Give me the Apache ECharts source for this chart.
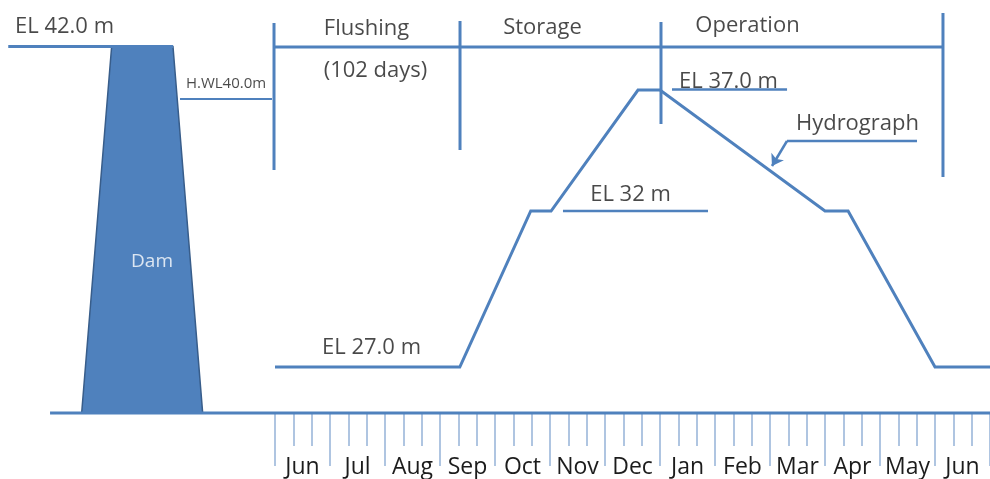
<!DOCTYPE html>
<html>
<head>
<meta charset="utf-8">
<script src="https://cdn.jsdelivr.net/npm/echarts@6/dist/echarts.min.js"></script>
<style>html,body{margin:0;padding:0;background:#fff}#c{width:990px;height:479px}</style>
</head>
<body>
<div id="c"></div>
<script>
// ---- Data (diagram is schematic: x = months since 1 June, y = schematic drawing height above ground) ----
const monthLabels = ['Jun','Jul','Aug','Sep','Oct','Nov','Dec','Jan','Feb','Mar','Apr','May','Jun'];
const subTicksPerMonth = 3;

// Hydrograph (reservoir water level through the year)
const hydroMonth  = [0, 3.36, 4.65, 5.02, 6.6, 7.0, 10.0, 10.42, 12.0, 13.0];
const hydroHeight = [46, 46, 202, 202, 323, 323, 202, 202, 46, 46];

// Dam cross-section (trapezoid)
const damMonth  = [-3.515, -1.315, -1.855, -2.97];
const damHeight = [0, 0, 366.5, 366.5];

// Reference levels
const crestLine   = [[-4.85, 366.5], [-1.855, 366.5]];   // EL 42.0 m
const hwlLine     = [[-1.727, 314], [-0.055, 314]];       // H.WL 40.0 m
const el32Line    = [[5.236, 202], [7.873, 202]];         // EL 32 m
const el37Line    = [[7.218, 323.5], [9.31, 323.5]];      // EL 37.0 m
const groundLine  = [[-4.09, 0], [13, 0]];
// Period brackets
const bracketTop  = [[-0.018, 366], [12.145, 366]];
const dividers    = [
  [[-0.018, 390], [-0.018, 243]],
  [[3.364, 392], [3.364, 263]],
  [[7.018, 391], [7.018, 289]],
  [[12.145, 400], [12.145, 236]]
];
// Hydrograph leader with arrow
const leaderLine  = [[11.673, 272], [9.309, 272]];
const leaderArrow = [[9.309, 272], [9.036, 247]];

// Text annotations
const notes = [
  {text: 'EL 42.0 m',  at: [-3.827, 386.5], size: 22},
  {text: 'H.WL40.0m',  at: [-0.891, 329.5], size: 15},
  {text: 'Flushing',   at: [1.664, 384.5],  size: 22},
  {text: '(102 days)', at: [1.827, 342.5],  size: 22},
  {text: 'Storage',    at: [4.864, 385],    size: 22},
  {text: 'Operation',  at: [8.591, 387],    size: 22},
  {text: 'EL 37.0 m',  at: [8.245, 331],    size: 22},
  {text: 'Hydrograph', at: [10.59, 289],    size: 22},
  {text: 'EL 32 m',    at: [6.464, 218.5],  size: 22},
  {text: 'EL 27.0 m',  at: [1.755, 65],     size: 22},
  {text: 'Dam',        at: [-2.236, 151],   size: 19, color: '#ffffff'}
];

// ---- Styles ----
const BLUE = '#4f81bd';
const TICK = '#95b3d7';
const TEXT = '#1c1c1c';
const FONT = 'Open Sans';

function seg(points, width, z) {
  return {
    type: 'line', xAxisIndex: 0, yAxisIndex: 0, data: points,
    symbol: 'none', silent: true, clip: false, z: z || 2,
    lineStyle: {color: BLUE, width: width, cap: 'butt', join: 'miter'}
  };
}

const series = [];
series.push(seg(groundLine, 3, 3));
series.push({
  type: 'custom', xAxisIndex: 0, yAxisIndex: 0, z: 2, silent: true,
  data: [[damMonth[0], damHeight[0]]],
  renderItem: function (params, api) {
    const pts = damMonth.map((m, i) => api.coord([m, damHeight[i]]));
    return {type: 'polygon', shape: {points: pts},
            style: {fill: BLUE, stroke: '#385d8a', lineWidth: 1.5}};
  }
});
series.push(seg(crestLine, 3));
series.push(seg(hwlLine, 2));
series.push(seg(el32Line, 2.5));
series.push(seg(el37Line, 2.5));
series.push(seg(bracketTop, 3));
dividers.forEach(d => series.push(seg(d, 3)));
series.push(seg(hydroMonth.map((m, i) => [m, hydroHeight[i]]), 3, 4));
series.push(seg(leaderLine, 2.5));
series.push({
  type: 'lines', coordinateSystem: 'cartesian2d', xAxisIndex: 0, yAxisIndex: 0,
  polyline: false, silent: true, z: 4,
  symbol: ['none', 'arrow'], symbolSize: 11,
  lineStyle: {color: BLUE, width: 2.5, opacity: 1},
  data: [{coords: leaderArrow}]
});
series.push({
  type: 'scatter', xAxisIndex: 0, yAxisIndex: 0, z: 6, silent: true,
  symbolSize: 1, itemStyle: {color: 'rgba(0,0,0,0)'},
  data: notes.map(n => ({
    value: n.at,
    label: {show: true, position: 'inside', formatter: n.text,
            fontSize: n.size, fontFamily: FONT, color: n.color || TEXT}
  }))
});

const chart = echarts.init(document.getElementById('c'), null, {renderer: 'canvas'});
chart.setOption({
  animation: false,
  backgroundColor: '#ffffff',
  grid: [
    {left: 0, right: 0, top: 0, bottom: 0},
    {left: 275, right: 0, top: 300, bottom: 66}
  ],
  xAxis: [
    {gridIndex: 0, type: 'value', min: -5, max: 13, show: false},
    {gridIndex: 1, type: 'value', min: 0, max: monthLabels.length * subTicksPerMonth, interval: 1,
     position: 'bottom',
     axisLine: {show: false}, splitLine: {show: false}, axisLabel: {show: false},
     axisTick: {show: true, length: 34, lineStyle: {color: TICK, width: 1.5}}},
    {gridIndex: 1, type: 'category', data: monthLabels, boundaryGap: true, position: 'bottom',
     axisLine: {show: false}, splitLine: {show: false},
     axisTick: {show: true, interval: 0, alignWithLabel: false, length: 54,
                lineStyle: {color: TICK, width: 1.5}},
     axisLabel: {show: true, interval: 0, margin: 44, fontSize: 23, fontFamily: FONT, color: TEXT}}
  ],
  yAxis: [
    {gridIndex: 0, type: 'value', min: -66, max: 413, show: false},
    {gridIndex: 1, type: 'value', min: 0, max: 1, show: false}
  ],
  series: series
});
</script>
</body>
</html>
